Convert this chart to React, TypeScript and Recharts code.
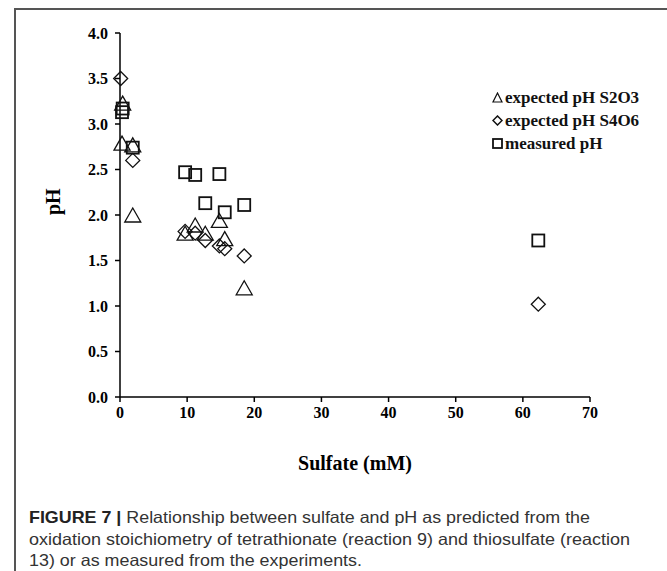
import React from "react"
import { ScatterChart, Scatter, XAxis, YAxis } from "recharts"

// sulfate (mM) / pH
const s2o3Sulfate = [0.3, 0.4, 1.9, 1.9, 9.7, 11.2, 12.7, 14.8, 15.6, 18.5]
const s2o3PH = [2.79, 3.23, 2.77, 2.0, 1.8, 1.89, 1.8, 1.94, 1.74, 1.2]

const s4o6Sulfate = [0.1, 1.9, 9.7, 11.2, 12.7, 14.8, 15.6, 18.5, 62.3]
const s4o6PH = [3.5, 2.6, 1.82, 1.8, 1.72, 1.66, 1.63, 1.55, 1.02]

const measuredSulfate = [0.3, 0.4, 1.9, 9.7, 11.2, 12.7, 14.8, 15.6, 18.5, 62.3]
const measuredPH = [3.13, 3.17, 2.74, 2.47, 2.44, 2.13, 2.45, 2.03, 2.11, 1.72]

const xTicks = [0, 10, 20, 30, 40, 50, 60, 70]
const yTicks = [0, 0.5, 1, 1.5, 2, 2.5, 3, 3.5, 4]

const captionLines = [
  "Relationship between sulfate and pH as predicted from the",
  "oxidation stoichiometry of tetrathionate (reaction 9) and thiosulfate (reaction",
  "13) or as measured from the experiments.",
]

const toPoints = (xs: number[], ys: number[]) => xs.map((x, i) => ({ x, y: ys[i] }))

const serif = "'Liberation Serif', 'Times New Roman', serif"
const sans = "'Liberation Sans', Arial, sans-serif"

const Triangle = (props: any) => {
  const { cx, cy } = props
  const w = 8, h = 14
  return <polygon points={`${cx},${cy - h / 2} ${cx + w},${cy + h / 2} ${cx - w},${cy + h / 2}`} fill="none" stroke="#111" strokeWidth={1.3} />
}
const Diamond = (props: any) => {
  const { cx, cy } = props
  const r = 7
  return <polygon points={`${cx},${cy - r} ${cx + r},${cy} ${cx},${cy + r} ${cx - r},${cy}`} fill="none" stroke="#111" strokeWidth={1.3} />
}
const Square = (props: any) => {
  const { cx, cy } = props
  const r = 6
  return <rect x={cx - r} y={cy - r} width={r * 2} height={r * 2} fill="none" stroke="#111" strokeWidth={1.8} />
}

const legendItems = [
  { label: "expected pH S2O3", icon: "tri" },
  { label: "expected pH S4O6", icon: "dia" },
  { label: "measured pH", icon: "sq" },
]

const LegendBox = () => (
  <div style={{ position: "absolute", left: 492, top: 86, fontFamily: serif, fontWeight: "bold", fontSize: 17, color: "#111" }}>
    {legendItems.map((it) => (
      <div key={it.label} style={{ display: "flex", alignItems: "center", height: 23 }}>
        <svg width={11} height={11} style={{ marginRight: 2 }}>
          {it.icon === "tri" && <polygon points="5.5,1 10,10 1,10" fill="none" stroke="#111" strokeWidth={1.2} />}
          {it.icon === "dia" && <polygon points="5.5,1 10,5.5 5.5,10 1,5.5" fill="none" stroke="#111" strokeWidth={1.5} />}
          {it.icon === "sq" && <rect x={1} y={1} width={9} height={9} fill="none" stroke="#111" strokeWidth={1.8} />}
        </svg>
        <span>{it.label}</span>
      </div>
    ))}
  </div>
)

export default function App() {
  return (
    <div style={{ position: "absolute", left: 0, top: 0, width: 667, height: 571, background: "#fff", overflow: "hidden" }}>
      <div style={{ position: "absolute", left: 14, top: 8, width: 653, height: 563, borderTop: "2px solid #555", borderLeft: "2px solid #555" }} />
      <div style={{ position: "absolute", left: 0, top: 0 }}>
        <ScatterChart width={667} height={480} margin={{ top: 33, right: 77, left: 60, bottom: 23 }}>
          <XAxis
            type="number"
            dataKey="x"
            domain={[0, 70]}
            ticks={xTicks}
            interval={0}
            tickSize={5}
            tickMargin={5}
            height={60}
            axisLine={{ stroke: "#000", strokeWidth: 1.5 }}
            tickLine={{ stroke: "#000", strokeWidth: 1.5 }}
            tick={{ fill: "#000", fontFamily: serif, fontWeight: "bold", fontSize: 16 }}
            label={{ value: "Sulfate (mM)", position: "insideBottom", offset: -13, fill: "#000", fontFamily: serif, fontWeight: "bold", fontSize: 20 }}
          />
          <YAxis
            type="number"
            dataKey="y"
            domain={[0, 4]}
            ticks={yTicks}
            interval={0}
            width={60}
            tickSize={5}
            tickMargin={7}
            tickFormatter={(v: number) => v.toFixed(1)}
            axisLine={{ stroke: "#000", strokeWidth: 1.5 }}
            tickLine={{ stroke: "#000", strokeWidth: 1.5 }}
            tick={{ fill: "#000", fontFamily: serif, fontWeight: "bold", fontSize: 16 }}
            label={{ value: "pH", angle: -90, position: "insideLeft", offset: -7, fill: "#000", fontFamily: serif, fontWeight: "bold", fontSize: 20 }}
          />
          <Scatter name="expected pH S2O3" data={toPoints(s2o3Sulfate, s2o3PH)} shape={<Triangle />} isAnimationActive={false} />
          <Scatter name="expected pH S4O6" data={toPoints(s4o6Sulfate, s4o6PH)} shape={<Diamond />} isAnimationActive={false} />
          <Scatter name="measured pH" data={toPoints(measuredSulfate, measuredPH)} shape={<Square />} isAnimationActive={false} />
        </ScatterChart>
      </div>
      <LegendBox />
      <svg style={{ position: "absolute", left: 0, top: 490 }} width={667} height={81}>
        <text x={29} y={33} fontFamily={sans} fontSize={16.5} fill="#333" textLength={561} lengthAdjust="spacingAndGlyphs">
          <tspan fontWeight="bold" fill="#222">FIGURE 7 | </tspan>
          {captionLines[0]}
        </text>
        <text x={29} y={55} fontFamily={sans} fontSize={16.5} fill="#333" textLength={601} lengthAdjust="spacingAndGlyphs">{captionLines[1]}</text>
        <text x={29} y={76} fontFamily={sans} fontSize={16.5} fill="#333" textLength={333} lengthAdjust="spacingAndGlyphs">{captionLines[2]}</text>
      </svg>
    </div>
  )
}
